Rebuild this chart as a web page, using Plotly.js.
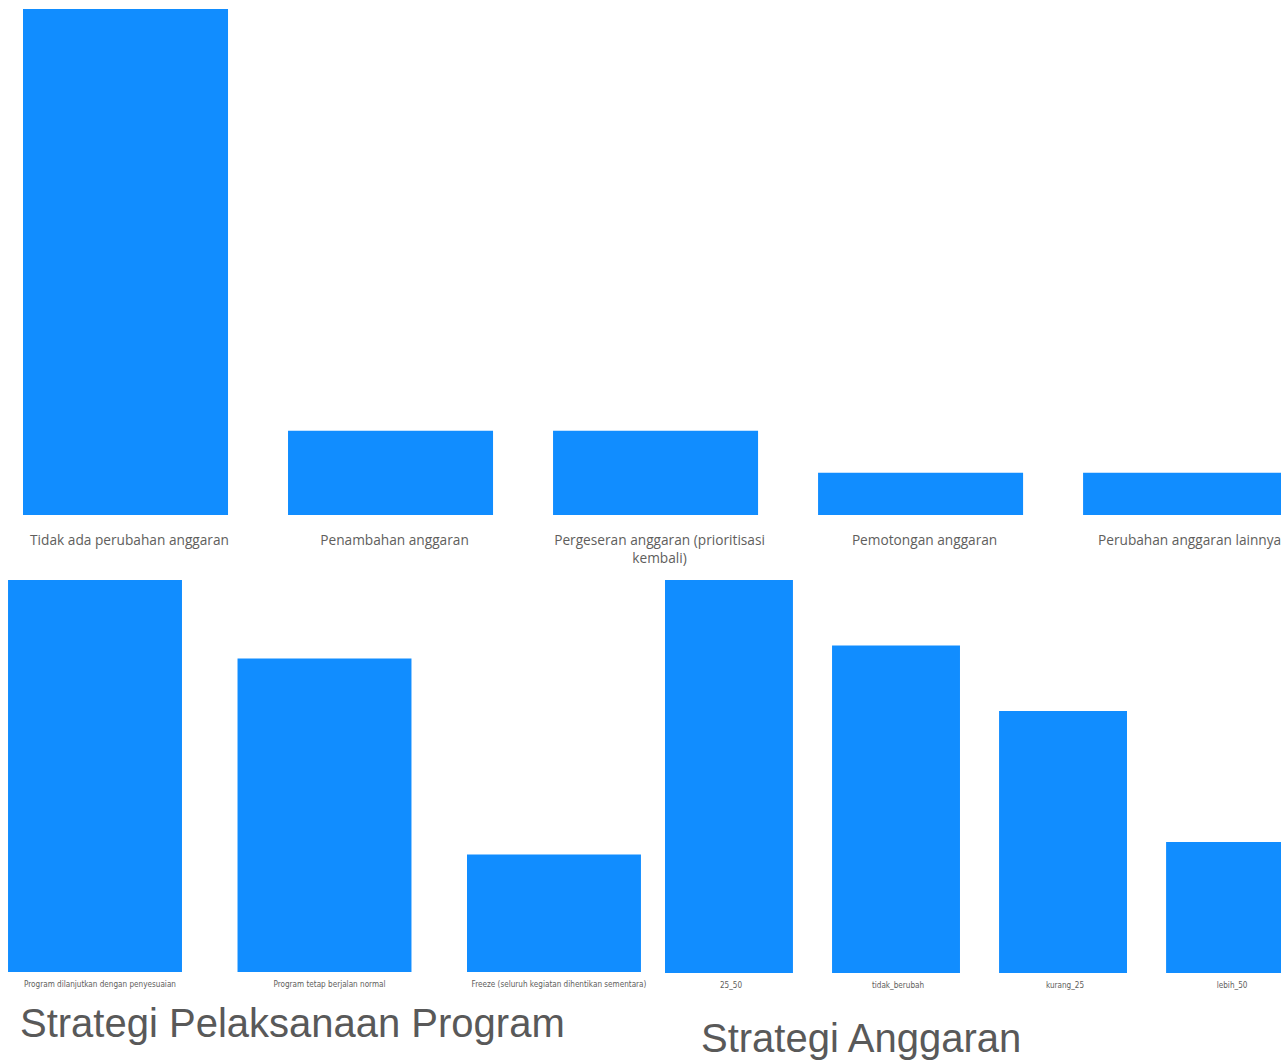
<!DOCTYPE html>
<html>
<head>
<meta charset="utf-8">
<script src="https://cdn.plot.ly/plotly-3.0.1.min.js"></script>
<style>
html,body{margin:0;padding:0;background:#fff;overflow:hidden;}
#chart{width:1281px;height:1060px;}
</style>
</head>
<body>
<div id="chart"></div>
<script>
// Top chart: perubahan anggaran
const budgetChangeCats = ["Tidak ada perubahan anggaran", "Penambahan anggaran", "Pergeseran anggaran (prioritisasi<br>kembali)", "Pemotongan anggaran", "Perubahan anggaran lainnya"];
const budgetChangeVals = [12, 2, 2, 1, 1];

// Bottom left: Strategi Pelaksanaan Program
const programCats = ["Program dilanjutkan dengan penyesuaian", "Program tetap berjalan normal", "Freeze (seluruh kegiatan dihentikan sementara)"];
const programVals = [10, 8, 3];

// Bottom right: Strategi Anggaran
const budgetCats = ["25_50", "tidak_berubah", "kurang_25", "lebih_50"];
const budgetVals = [6, 5, 4, 2];

const titles = ["Strategi Pelaksanaan Program", "Strategi Anggaran"];

const barColor = "#118DFF";
const W = 1281, H = 1060;
const px = v => v / W;
const py = v => 1 - v / H;

const traces = [
  {type: "bar", x: budgetChangeCats, y: budgetChangeVals, xaxis: "x", yaxis: "y",
   width: 0.7736, marker: {color: barColor}, hoverinfo: "x+y"},
  {type: "bar", x: programCats, y: programVals, xaxis: "x2", yaxis: "y2",
   width: 0.758, marker: {color: barColor}, hoverinfo: "x+y"},
  {type: "bar", x: budgetCats, y: budgetVals, xaxis: "x3", yaxis: "y3",
   width: 0.766, marker: {color: barColor}, hoverinfo: "x+y"}
];

const hiddenY = {showgrid: false, zeroline: false, showticklabels: false, showline: false, ticks: "", fixedrange: true};
const smallFont = {family: "DejaVu Sans Condensed, sans-serif", size: 8.1, color: "#605E5C"};

const layout = {
  width: W, height: H,
  margin: {l: 0, r: 0, t: 0, b: 0},
  paper_bgcolor: "#ffffff",
  plot_bgcolor: "#ffffff",
  showlegend: false,
  xaxis: {domain: [0, 1], anchor: "y", type: "category",
          range: [-0.4736, 4.360], showgrid: false, zeroline: false, showline: false, ticks: "",
          tickfont: {family: "Open Sans, sans-serif", size: 13.7, color: "#605E5C"},
          ticklabelstandoff: 15, ticklabelshift: 4, automargin: false, fixedrange: true},
  yaxis: Object.assign({domain: [py(515), py(9)], anchor: "x", range: [0, 12]}, hiddenY),
  xaxis2: {domain: [0, px(660)], anchor: "y2", type: "category",
          range: [-0.414, 2.462], showgrid: false, zeroline: false, showline: false, ticks: "",
          tickfont: smallFont, ticklabelstandoff: 6, ticklabelshift: 5, automargin: false, fixedrange: true},
  yaxis2: Object.assign({domain: [py(972), py(580)], anchor: "x2", range: [0, 10]}, hiddenY),
  xaxis3: {domain: [px(660), 1], anchor: "y3", type: "category",
          range: [-0.413, 3.305], showgrid: false, zeroline: false, showline: false, ticks: "",
          tickfont: smallFont, ticklabelstandoff: 6, ticklabelshift: 2, automargin: false, fixedrange: true},
  yaxis3: Object.assign({domain: [py(973), py(580)], anchor: "x3", range: [0, 6]}, hiddenY),
  annotations: [
    {text: titles[0], xref: "paper", yref: "paper", x: px(18), y: py(1023),
     xanchor: "left", yanchor: "middle", showarrow: false,
     font: {family: "Liberation Sans, Arial, sans-serif", size: 40, color: "#595959"}},
    {text: titles[1], xref: "paper", yref: "paper", x: px(699), y: py(1038),
     xanchor: "left", yanchor: "middle", showarrow: false,
     font: {family: "Liberation Sans, Arial, sans-serif", size: 40, color: "#595959"}}
  ]
};

Plotly.newPlot("chart", traces, layout, {displayModeBar: false});
</script>
</body>
</html>
